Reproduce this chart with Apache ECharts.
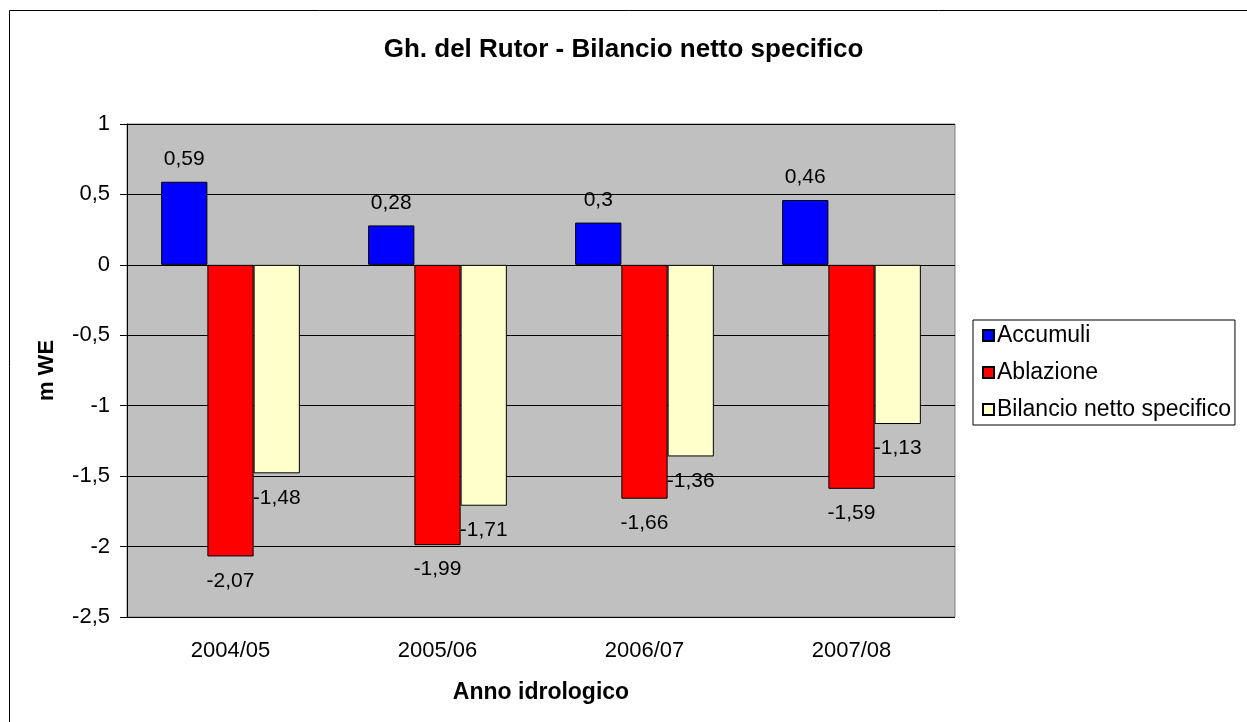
<!DOCTYPE html>
<html>
<head>
<meta charset="utf-8">
<script src="https://cdn.jsdelivr.net/npm/echarts@6/dist/echarts.min.js"></script>
<style>
  html, body { margin: 0; padding: 0; background: #fff; }
  #chart { width: 1247px; height: 722px; }
</style>
</head>
<body>
<div id="chart"></div>
<script>
const categories = ['2004/05', '2005/06', '2006/07', '2007/08']
const accumuli = [0.59, 0.28, 0.3, 0.46]
const ablazione = [-2.07, -1.99, -1.66, -1.59]
const bilancio = [-1.48, -1.71, -1.36, -1.13]
const seriesNames = ['Accumuli', 'Ablazione', 'Bilancio netto specifico']
const seriesColors = ['#0000ff', '#ff0000', '#ffffcc']

const font = 'Liberation Sans, Arial, sans-serif'
const fmt = v => String(v).replace('.', ',')

// positive values get their label above the bar, negatives below
function withLabels(values) {
  return values.map(v => ({
    value: v,
    label: v >= 0 ? { position: 'top', distance: 12 } : { position: 'bottom', distance: 14 }
  }))
}

const chart = echarts.init(document.getElementById('chart'))

chart.setOption({
  animation: false,
  textStyle: { fontFamily: font },
  title: {
    text: 'Gh. del Rutor - Bilancio netto specifico',
    left: 'center',
    top: 32,
    textStyle: { fontSize: 26, fontWeight: 'bold', color: '#000', fontFamily: font }
  },
  graphic: [{
    type: 'rect',
    shape: { x: 9.5, y: 10.5, width: 1300, height: 800 },
    style: { fill: 'none', stroke: '#000', lineWidth: 1 },
    silent: true,
    z: -1
  }],
  legend: {
    orient: 'vertical',
    left: 973,
    top: 320,
    padding: [4, 4, 4, 9],
    itemGap: 14,
    itemWidth: 11,
    itemHeight: 11,
    borderColor: '#000',
    borderWidth: 1,
    backgroundColor: '#fff',
    icon: 'rect',
    textStyle: { fontSize: 23, color: '#000', fontFamily: font, padding: [0, 0, 0, -2] },
    data: seriesNames
  },
  grid: {
    left: 127,
    right: 1247 - 955,
    top: 124,
    bottom: 722 - 617,
    show: true,
    backgroundColor: '#c0c0c0',
    borderColor: '#808080',
    borderWidth: 1
  },
  xAxis: {
    type: 'category',
    data: categories,
    name: 'Anno idrologico',
    nameLocation: 'middle',
    nameGap: 64,
    nameTextStyle: { fontSize: 23, fontWeight: 'bold', color: '#000' },
    axisLine: { show: false },
    axisTick: { show: false },
    axisLabel: { color: '#000', fontSize: 22, margin: 23 }
  },
  yAxis: {
    type: 'value',
    min: -2.5,
    max: 1,
    interval: 0.5,
    name: 'm WE',
    nameLocation: 'middle',
    nameGap: 69,
    nameRotate: 90,
    nameTextStyle: { fontSize: 22, fontWeight: 'bold', color: '#000' },
    axisLine: { show: true, lineStyle: { color: '#000', width: 1 } },
    axisTick: { show: true, inside: false, length: 7, lineStyle: { color: '#000' } },
    axisLabel: { color: '#000', fontSize: 22, margin: 17, formatter: fmt },
    splitLine: { show: true, lineStyle: { color: '#000', width: 1 } }
  },
  series: [accumuli, ablazione, bilancio].map((vals, i) => ({
    name: seriesNames[i],
    type: 'bar',
    barGap: '0%',
    barCategoryGap: '33%',
    itemStyle: { color: seriesColors[i], borderColor: '#000', borderWidth: 1 },
    label: {
      show: true,
      color: '#000',
      fontSize: 21,
      fontFamily: font,
      formatter: p => fmt(p.value)
    },
    data: withLabels(vals)
  }))
})
</script>
</body>
</html>
